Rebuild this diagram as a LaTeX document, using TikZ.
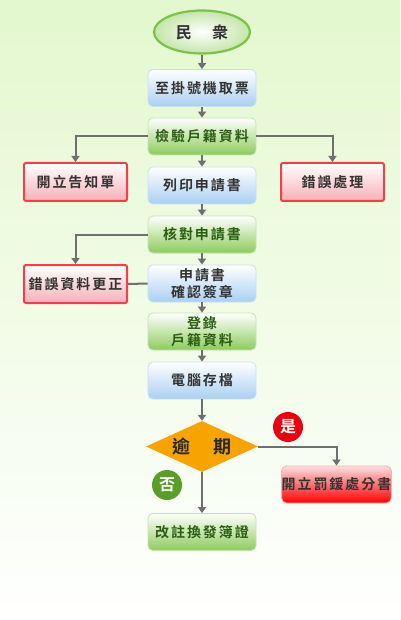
\documentclass[tikz,border=0pt]{standalone}
\usepackage{fontspec}
\usetikzlibrary{shapes.geometric,arrows.meta}
\newfontfamily\cjk[BoldFont={Noto Sans CJK TC Bold},LetterSpace=14]{Noto Sans CJK TC}
\definecolor{bggreen}{HTML}{E3F8CE}
\definecolor{bluebot}{HTML}{A9CFF2}
\definecolor{blueedge}{HTML}{C9DFF3}
\definecolor{greenbot}{HTML}{8DCB5C}
\definecolor{greenedge}{HTML}{C6E4AE}
\definecolor{rededge}{HTML}{F0404E}
\definecolor{pinkbot}{HTML}{F6B0B6}
\definecolor{linegrey}{HTML}{6F6F6F}
\definecolor{greentext}{HTML}{2B5E12}
\definecolor{darktext}{HTML}{333333}
\definecolor{orangefill}{HTML}{F7A400}
\definecolor{yesred}{HTML}{E60012}
\definecolor{nogreen}{HTML}{5A9E2A}
\definecolor{ellfill}{HTML}{E9F7DC}
\definecolor{elledge}{HTML}{7CC24A}
\begin{document}
\begin{tikzpicture}[x=1pt,y=-1pt,
  every node/.style={font=\cjk\bfseries\fontsize{14}{17}\selectfont, align=center, inner sep=0pt},
  bluebox/.style={rounded corners=5pt, draw=blueedge, line width=0.8pt, top color=white, bottom color=bluebot, minimum width=108pt, minimum height=37pt, text=darktext},
  greenbox/.style={rounded corners=5pt, draw=greenedge, line width=0.8pt, top color=white, bottom color=greenbot, minimum width=108pt, minimum height=37pt, text=greentext},
  redbox/.style={rounded corners=2pt, draw=rededge, line width=2pt, top color=white, bottom color=pinkbot, minimum width=103pt, minimum height=38pt, text=darktext},
  brightred/.style={rounded corners=5pt, draw=pinkbot, line width=0.8pt, top color=white!60!pinkbot, bottom color=red, minimum width=107pt, minimum height=37pt, text=darktext},
  conn/.style={draw=linegrey, line width=2pt},
  arr/.style={conn, -{Triangle[width=8pt,length=6pt]}},
  badge/.style={circle, minimum size=30pt, text=white, font=\cjk\bfseries\fontsize{16}{18}\selectfont}
]
\useasboundingbox (0,0) rectangle (400,620);
\shade[top color=bggreen, bottom color=white] (0,0) rectangle (400,620);

\node[ellipse, draw=elledge, line width=2.2pt, inner color=white, outer color=ellfill!60!greenbot, minimum width=96pt, minimum height=43pt, text=darktext, font=\cjk\bfseries\fontsize{16}{18}\selectfont] (start) at (202,32) {民　衆};

\node[bluebox] (ticket) at (202,88) {至掛號機取票};
\node[greenbox] (check) at (202,136.5) {檢驗戶籍資料};
\node[redbox] (notice) at (75.5,182) {開立告知單};
\node[redbox] (errproc) at (332.5,182) {錯誤處理};
\node[bluebox] (print) at (202,185.5) {列印申請書};
\node[greenbox] (verify) at (202,234.5) {核對申請書};
\node[redbox] (fix) at (75.5,284) {錯誤資料更正};
\node[bluebox] (sign) at (202,283.5) {申請書\\確認簽章};
\node[greenbox] (record) at (202,331.5) {登錄\\戶籍資料};
\node[bluebox] (save) at (202,380.5) {電腦存檔};
\node[diamond, fill=orangefill, minimum width=112pt, minimum height=51pt, aspect=2.2, inner sep=0pt, text=black!85, font=\cjk\bfseries\fontsize{18}{20}\selectfont] (overdue) at (202,446.5) {逾　期};
\node[brightred] (fine) at (336.5,484.5) {開立罰鍰處分書};
\node[greenbox] (reissue) at (202,532) {改註換發簿證};

\node[badge, fill=yesred] (yes) at (288,427) {是};
\node[badge, fill=nogreen] (no) at (167,485) {否};

\draw[arr] (start.south) -- (ticket.north);
\draw[arr] (ticket.south) -- (check.north);
\draw[arr] (check.west) -| (notice.north);
\draw[arr] (check.east) -| (errproc.north);
\draw[arr] (check.south) -- (print.north);
\draw[arr] (print.south) -- (verify.north);
\draw[arr] (verify.west) -| (fix.north);
\draw[conn] (fix.east) -- (sign.west);
\draw[arr] (verify.south) -- (sign.north);
\draw[arr] (sign.south) -- (record.north);
\draw[arr] (record.south) -- (save.north);
\draw[arr] (save.south) -- (overdue.north);
\draw[arr] (overdue.east) -| (fine.north);
\draw[arr] (overdue.south) -- (reissue.north);
\end{tikzpicture}
\end{document}
